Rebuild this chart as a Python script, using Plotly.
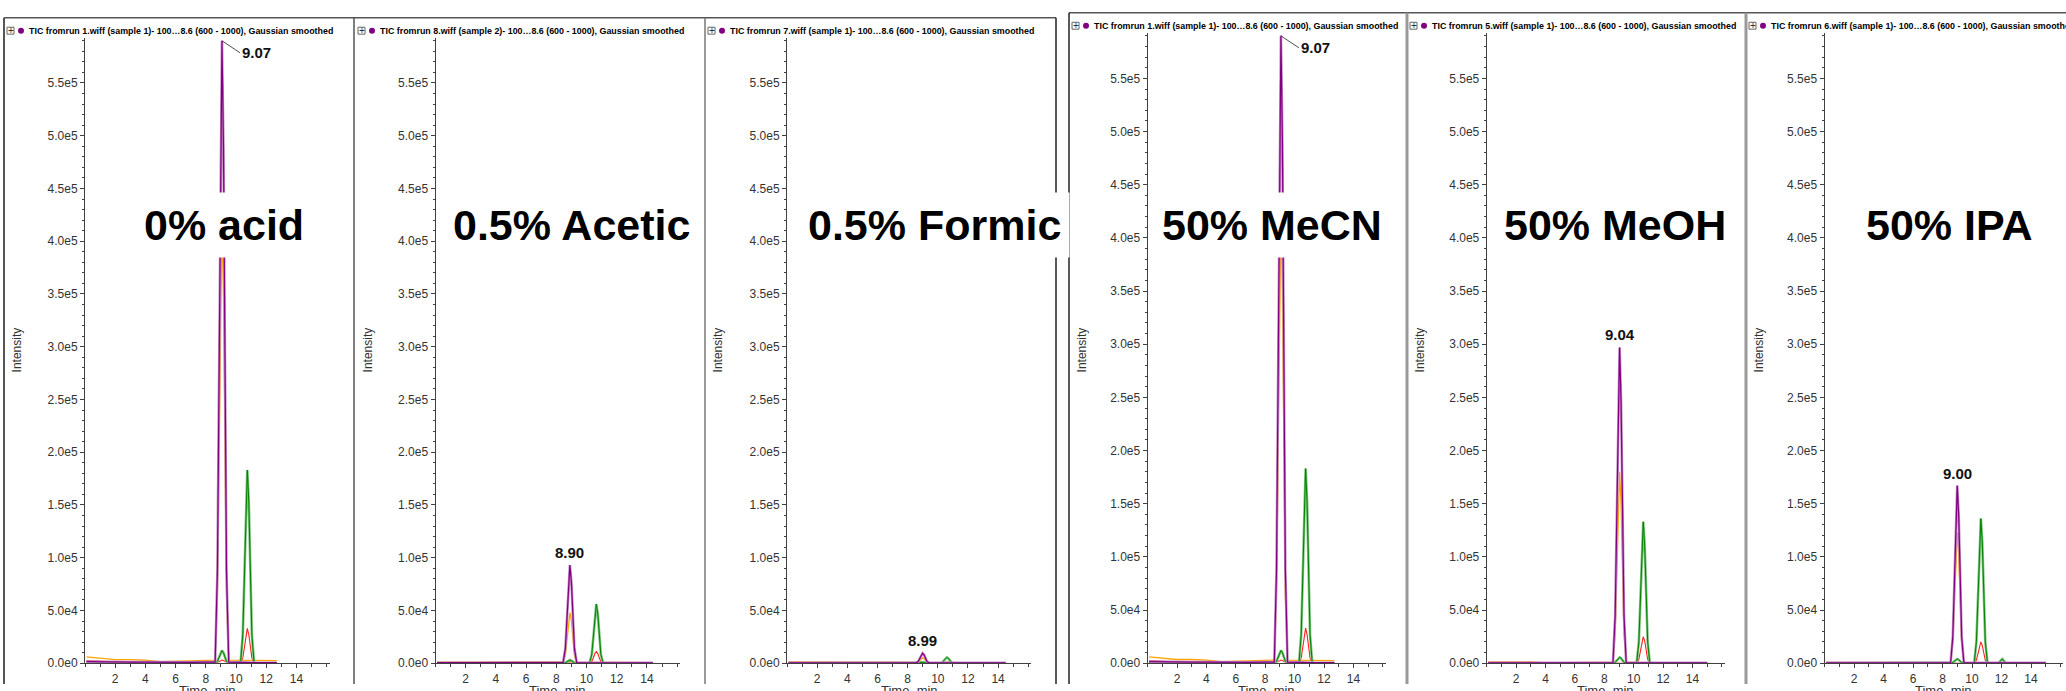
import plotly.graph_objects as go

# ---------------- DATA ----------------
PANEL_LABELS = ["0% acid", "0.5% Acetic", "0.5% Formic", "50% MeCN", "50% MeOH", "50% IPA"]
HEADERS = [
    "TIC fromrun 1.wiff (sample 1)- 100\u20268.6 (600 - 1000), Gaussian smoothed",
    "TIC fromrun 8.wiff (sample 2)- 100\u20268.6 (600 - 1000), Gaussian smoothed",
    "TIC fromrun 7.wiff (sample 1)- 100\u20268.6 (600 - 1000), Gaussian smoothed",
    "TIC fromrun 1.wiff (sample 1)- 100\u20268.6 (600 - 1000), Gaussian smoothed",
    "TIC fromrun 5.wiff (sample 1)- 100\u20268.6 (600 - 1000), Gaussian smoothed",
    "TIC fromrun 6.wiff (sample 1)- 100\u20268.6 (600 - 1000), Gaussian smoothed",
]
APEX_TIME = [9.07, 8.90, 8.99, 9.07, 9.04, 9.00]
APEX_TEXT = ["9.07", "8.90", "8.99", "9.07", "9.04", "9.00"]
APEX_INT = [590000, 93000, 9500, 590000, 297000, 167000]
ARROW_LEVEL = [30000, 2000, 0, 30000, 15000, 8500]

Y_TICKS = [0, 50000, 100000, 150000, 200000, 250000, 300000, 350000, 400000, 450000, 500000, 550000]
Y_TICKTEXT = ["0.0e0", "5.0e4", "1.0e5", "1.5e5", "2.0e5", "2.5e5", "3.0e5", "3.5e5", "4.0e5", "4.5e5", "5.0e5", "5.5e5"]
X_TICKS = [2, 4, 6, 8, 10, 12, 14]
Y_MAX = 593000
X_MAX = 16.2

# run 1 (0% acid / 50% MeCN)
T1 = [0.1, 1, 2, 3, 4, 5, 6, 7, 8, 8.62, 8.77, 8.87, 8.97, 9.07, 9.17, 9.27, 9.37, 9.52,
      10.3, 10.45, 10.55, 10.65, 10.75, 10.85, 10.95, 11.05, 11.2, 12.0, 12.7]
PURPLE1 = [1500, 1200, 1000, 1000, 1000, 800, 800, 800, 1000, 1000, 88000, 265000, 490000, 590000, 490000, 265000, 88000, 1000,
           500, 500, 500, 500, 500, 500, 500, 500, 500, 500, 500]
ORANGE1 = [6000, 5000, 3500, 3500, 3000, 1500, 2000, 2000, 3000, 3000, 63000, 189000, 349000, 420000, 349000, 189000, 63000, 3000,
           3000, 3000, 3000, 3000, 3000, 3000, 3000, 3000, 3000, 2500, 2500]
GREEN1 = [0, 0, 0, 0, 0, 0, 0, 0, 0, 0, 1800, 5400, 10000, 12000, 10000, 5400, 1800, 0,
          0, 27000, 82000, 152000, 183000, 152000, 82000, 27000, 0, 0, 0]
RED1 = [2500, 2000, 1200, 1500, 1500, 500, 500, 500, 800, 800, 1000, 1500, 2500, 3000, 2500, 1500, 1000, 800,
        500, 5000, 15000, 27000, 33000, 27000, 15000, 5000, 500, 500, 500]

# run 8 (0.5% acetic)
T2 = [0.1, 1, 2, 3, 4, 5, 6, 7, 8, 8.45, 8.6, 8.7, 8.8, 8.9, 9.0, 9.1, 9.2, 9.35,
      10.2, 10.35, 10.45, 10.55, 10.65, 10.75, 10.85, 10.95, 11.1, 12.0, 14.4]
PURPLE2 = [500, 500, 500, 500, 500, 500, 500, 500, 500, 500, 14000, 42000, 77000, 93000, 77000, 42000, 14000, 500,
           300, 300, 300, 300, 300, 300, 300, 300, 300, 300, 300]
ORANGE2 = [1000, 1000, 1000, 1000, 1000, 1000, 1000, 1000, 1000, 1000, 7200, 21600, 40000, 48000, 40000, 21600, 7200, 1000,
           800, 800, 800, 800, 800, 800, 800, 800, 800, 500, 500]
GREEN2 = [0, 0, 0, 0, 0, 0, 0, 0, 0, 0, 450, 1350, 2500, 3000, 2500, 1350, 450, 0,
          0, 8400, 25000, 46500, 56000, 46500, 25000, 8400, 0, 0, 0]
RED2 = [500, 500, 500, 500, 500, 500, 500, 500, 500, 500, 600, 800, 1200, 1500, 1200, 800, 600, 500,
        300, 1650, 5000, 9100, 11000, 9100, 5000, 1650, 300, 300, 300]

# run 7 (0.5% formic)
T3 = [0.1, 1, 2, 3, 4, 5, 6, 7, 8, 8.54, 8.69, 8.79, 8.89, 8.99, 9.09, 9.19, 9.29, 9.44,
      10.15, 10.3, 10.4, 10.5, 10.6, 10.7, 10.8, 10.9, 11.05, 12.0, 14.5]
PURPLE3 = [300, 300, 300, 300, 300, 300, 300, 300, 300, 300, 1400, 4300, 7900, 9500, 7900, 4300, 1400, 300,
           300, 300, 300, 300, 300, 300, 300, 300, 300, 300, 300]
ORANGE3 = [1200, 1200, 1200, 1200, 1200, 800, 800, 500, 800, 500, 750, 2250, 4150, 5000, 4150, 2250, 750, 500,
           300, 300, 300, 300, 300, 300, 300, 300, 300, 300, 300]
GREEN3 = [0, 0, 0, 0, 0, 0, 0, 0, 0, 0, 150, 450, 850, 1000, 850, 450, 150, 0,
          0, 800, 2500, 4600, 5500, 4600, 2500, 800, 0, 0, 0]
RED3 = [200, 200, 200, 200, 200, 200, 200, 200, 200, 200, 200, 300, 400, 500, 400, 300, 200, 200,
        200, 300, 500, 800, 1000, 800, 500, 300, 200, 200, 200]

# run 5 (50% MeOH)
T5 = [0.1, 1, 2, 3, 4, 5, 6, 7, 8, 8.59, 8.74, 8.84, 8.94, 9.04, 9.14, 9.24, 9.34, 9.49,
      10.2, 10.35, 10.45, 10.55, 10.65, 10.75, 10.85, 10.95, 11.1, 12.0, 15.0]
PURPLE5 = [300, 300, 300, 300, 300, 300, 300, 300, 300, 500, 44500, 134000, 246000, 297000, 246000, 134000, 44500, 500,
           300, 300, 300, 300, 300, 300, 300, 300, 300, 300, 300]
ORANGE5 = [1200, 1200, 1200, 1200, 300, 300, 300, 300, 300, 1000, 27000, 81000, 149000, 180000, 149000, 81000, 27000, 1000,
           300, 300, 300, 300, 300, 300, 300, 300, 300, 300, 300]
GREEN5 = [0, 0, 0, 0, 0, 0, 0, 0, 0, 0, 800, 2500, 4600, 5500, 4600, 2500, 800, 0,
          0, 20000, 60000, 110000, 133000, 110000, 60000, 20000, 0, 0, 0]
RED5 = [200, 200, 200, 200, 200, 200, 200, 200, 200, 200, 200, 300, 500, 600, 500, 300, 200, 200,
        0, 3750, 11250, 20750, 25000, 20750, 11250, 3750, 0, 0, 0]

# run 6 (50% IPA)
T6 = [0.1, 1, 2, 3, 4, 5, 6, 7, 8, 8.55, 8.7, 8.8, 8.9, 9.0, 9.1, 9.2, 9.3, 9.45,
      10.15, 10.3, 10.4, 10.5, 10.6, 10.7, 10.8, 10.9, 11.05, 11.8, 12.05, 12.3, 15.0]
PURPLE6 = [300, 300, 300, 300, 300, 300, 300, 300, 300, 300, 25000, 75000, 138600, 167000, 138600, 75000, 25000, 300,
           300, 300, 300, 300, 300, 300, 300, 300, 300, 300, 300, 300, 300]
ORANGE6 = [800, 800, 800, 800, 800, 800, 800, 500, 500, 500, 18500, 55000, 102000, 123000, 102000, 55000, 18500, 500,
           300, 300, 300, 300, 300, 300, 300, 300, 300, 300, 300, 300, 300]
GREEN6 = [0, 0, 0, 0, 0, 0, 0, 0, 0, 0, 600, 1800, 3300, 4000, 3300, 1800, 600, 0,
          0, 20400, 61000, 113000, 136000, 113000, 61000, 20400, 0, 0, 4000, 0, 0]
RED6 = [200, 200, 200, 200, 200, 200, 200, 200, 200, 200, 200, 300, 500, 600, 500, 300, 200, 200,
        0, 3000, 9000, 16600, 20000, 16600, 9000, 3000, 0, 0, 0, 0, 0]

SERIES = [
    (T1, PURPLE1, ORANGE1, GREEN1, RED1),
    (T2, PURPLE2, ORANGE2, GREEN2, RED2),
    (T3, PURPLE3, ORANGE3, GREEN3, RED3),
    (T1, PURPLE1, ORANGE1, GREEN1, RED1),
    (T5, PURPLE5, ORANGE5, GREEN5, RED5),
    (T6, PURPLE6, ORANGE6, GREEN6, RED6),
]

# ---------------- LAYOUT GEOMETRY (pixels) ----------------
W, H = 2066, 691
# (x of y-axis, px per minute, y of zero line, y of axis top, border left, header y)
GEOM = [
    (85.0, 15.10, 670, 38, 4, 31),
    (435.5, 15.10, 670, 38, 355, 31),
    (787.0, 15.08, 670, 38, 705, 31),
    (1147.6, 14.70, 670, 33, 1069, 26),
    (1486.7, 14.70, 670, 33, 1407, 26),
    (1824.5, 14.75, 670, 33, 1746, 26),
]
LABEL_CX = [224, 571, 934, 1272, 1615, 1949]
LABEL_CY = 227
TOP_LEFT, TOP_RIGHT = 18, 13

PURPLE, LAV = "#800080", "#c58ac5"
ORANGE = "#ffa500"
GREEN, LGREEN = "#008000", "#7cc47c"
RED = "#ff2020"
AX = "#404040"
TXT = "#333333"
FONT = "Liberation Sans, Arial"

def px(x):
    return x / W

def py(y):
    return 1 - y / H

fig = go.Figure()
annotations = []
shapes = []

for i in range(6):
    t, pu, orr, gr, rd = SERIES[i]
    x0, ppm, yz, ytop, bl, hy = GEOM[i]
    xa = "x" if i == 0 else f"x{i+1}"
    ya = "y" if i == 0 else f"y{i+1}"
    traces = [
        (orr, ORANGE, 1.3),
        (rd, RED, 1.1),
        (gr, LGREEN, 2.6),
        (gr, GREEN, 1.0),
        (pu, LAV, 2.6),
        (pu, PURPLE, 1.2),
    ]
    for ys, col, wdt in traces:
        fig.add_trace(go.Scatter(x=t, y=ys, mode="lines", line=dict(color=col, width=wdt),
                                 xaxis=xa, yaxis=ya, showlegend=False, hoverinfo="skip"))
    fig.add_trace(go.Scatter(x=[-0.42], y=[ARROW_LEVEL[i]], mode="markers",
                             marker=dict(symbol="arrow-right", size=9, color="#0000ff"),
                             xaxis=xa, yaxis=ya, showlegend=False, cliponaxis=False, hoverinfo="skip"))

    xd = [px(x0), px(x0 + X_MAX * ppm)]
    yd = [py(yz), py(ytop)]
    suffix = "" if i == 0 else str(i + 1)
    fig.update_layout(**{
        f"xaxis{suffix}": dict(domain=xd, range=[0, X_MAX], anchor=ya, showline=True, linecolor=AX, linewidth=1,
                               ticks="outside", ticklen=4, tickcolor=AX, tickvals=X_TICKS,
                               tickfont=dict(family=FONT, size=12, color=TXT),
                               showgrid=False, zeroline=False, fixedrange=True,
                               minor=dict(tickmode="linear", tick0=0, dtick=1, ticks="outside", ticklen=3, tickcolor=AX)),
        f"yaxis{suffix}": dict(domain=yd, range=[0, Y_MAX], anchor=xa, showline=True, linecolor=AX, linewidth=1,
                               ticks="outside", ticklen=4, tickcolor=AX, tickvals=Y_TICKS, ticktext=Y_TICKTEXT,
                               tickfont=dict(family=FONT, size=12, color=TXT),
                               showgrid=False, zeroline=False, fixedrange=True,
                               minor=dict(tickmode="linear", tick0=0, dtick=10000, ticks="outside", ticklen=2, tickcolor=AX)),
    })

    if i in (0, 3):
        annotations.append(dict(x=APEX_TIME[i], y=APEX_INT[i], xref=xa, yref=ya, text=f"<b>{APEX_TEXT[i]}</b>",
                                showarrow=True, arrowhead=0, arrowwidth=0.8, arrowcolor="#202020",
                                ax=18, ay=12, xanchor="left", yanchor="middle", standoff=0,
                                font=dict(family=FONT, size=15, color="#111")))
    else:
        annotations.append(dict(x=APEX_TIME[i], y=APEX_INT[i], xref=xa, yref=ya, text=f"<b>{APEX_TEXT[i]}</b>",
                                showarrow=False, yanchor="bottom", yshift=2,
                                font=dict(family=FONT, size=15, color="#111")))

    annotations.append(dict(x=px(LABEL_CX[i]), y=py(LABEL_CY), xref="paper", yref="paper", text=f"<b>{PANEL_LABELS[i]}</b>",
                            showarrow=False, xanchor="center", yanchor="middle", bgcolor="white", borderpad=8,
                            font=dict(family=FONT, size=43, color="black")))
    annotations.append(dict(x=px(bl + 23), y=py(hy), xref="paper", yref="paper", text=f"<b>{HEADERS[i]}</b>",
                            showarrow=False, xanchor="left", yanchor="middle",
                            font=dict(family=FONT, size=8.9, color="black")))
    annotations.append(dict(x=px(bl + 6.5), y=py(hy - 0.5), xref="paper", yref="paper", text="+",
                            showarrow=False, xanchor="center", yanchor="middle",
                            font=dict(family=FONT, size=10, color="#333")))
    shapes.append(dict(type="rect", xref="paper", yref="paper", x0=px(bl + 3), x1=px(bl + 10),
                       y0=py(hy - 3.5), y1=py(hy + 3.5), line=dict(color="#666", width=1)))
    shapes.append(dict(type="circle", xref="paper", yref="paper", x0=px(bl + 14), x1=px(bl + 20),
                       y0=py(hy - 3), y1=py(hy + 3), fillcolor=PURPLE, line=dict(color=PURPLE, width=0)))
    annotations.append(dict(x=px(bl + 13), y=py(354), xref="paper", yref="paper", text="Intensity", textangle=-90,
                            showarrow=False, xanchor="center", yanchor="middle",
                            font=dict(family=FONT, size=12, color=TXT)))
    annotations.append(dict(x=px(x0 + X_MAX * ppm / 2), y=py(688), xref="paper", yref="paper", text="Time, min",
                            showarrow=False, xanchor="center", yanchor="top",
                            font=dict(family=FONT, size=13, color=TXT)))

def vline(x, y0, y1, color, width):
    shapes.append(dict(type="line", xref="paper", yref="paper", x0=px(x), x1=px(x), y0=py(y0), y1=py(y1),
                       line=dict(color=color, width=width), layer="below"))

def hline(y, x0, x1, color, width):
    shapes.append(dict(type="line", xref="paper", yref="paper", x0=px(x0), x1=px(x1), y0=py(y), y1=py(y),
                       line=dict(color=color, width=width), layer="below"))

hline(TOP_LEFT, 4, 1056, "#555", 1.5)
vline(4, TOP_LEFT, 691, "#555", 2)
vline(354, TOP_LEFT, 691, "#555", 1.5)
vline(705, TOP_LEFT, 691, "#777", 1.5)
vline(1056, TOP_LEFT, 691, "#222", 1.5)
hline(TOP_RIGHT, 1069, 2066, "#555", 1.5)
vline(1069, TOP_RIGHT, 691, "#222", 1.5)
vline(1407, TOP_RIGHT, 691, "#999", 3)
vline(1746, TOP_RIGHT, 691, "#999", 3)

fig.update_layout(width=W, height=H, margin=dict(l=0, r=0, t=0, b=0), paper_bgcolor="white",
                  plot_bgcolor="white", showlegend=False, annotations=annotations, shapes=shapes)

fig.write_html("out.html", config={"displayModeBar": False},
               post_script="document.body.style.margin='0';document.body.style.overflow='hidden';")
